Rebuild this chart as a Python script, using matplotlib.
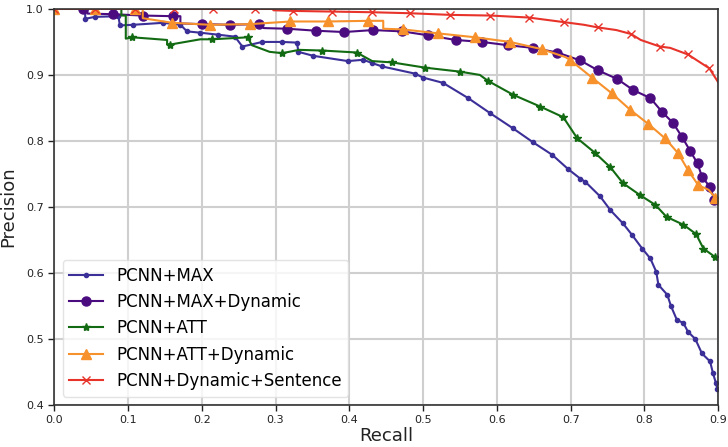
"""Precision-recall curves for the PCNN variants (MAX / ATT / Dynamic)."""
import matplotlib
matplotlib.use('Agg')
import matplotlib.pyplot as plt

# Curves: (recall, precision) per model.
max_recall = [0.0, 0.042, 0.042, 0.055, 0.087, 0.089, 0.107, 0.148, 0.171, 0.180, 0.198,
              0.222, 0.245, 0.255, 0.282, 0.309, 0.329, 0.331, 0.351, 0.398, 0.419,
              0.431, 0.444, 0.489, 0.500, 0.527, 0.561, 0.591, 0.622, 0.649, 0.675,
              0.697, 0.713, 0.720, 0.740, 0.754, 0.771, 0.783, 0.797, 0.808, 0.816,
              0.819, 0.831, 0.836, 0.844, 0.853, 0.859, 0.869, 0.878, 0.889, 0.893,
              0.897, 0.899]
max_precision = [1.0, 1.0, 0.985, 0.988, 0.989, 0.975, 0.976, 0.979, 0.976, 0.966, 0.964,
                 0.961, 0.958, 0.943, 0.950, 0.950, 0.949, 0.935, 0.929, 0.921, 0.923,
                 0.918, 0.913, 0.902, 0.896, 0.888, 0.865, 0.842, 0.819, 0.798, 0.779,
                 0.757, 0.743, 0.738, 0.716, 0.695, 0.675, 0.658, 0.637, 0.622, 0.602,
                 0.582, 0.567, 0.550, 0.529, 0.524, 0.511, 0.500, 0.478, 0.466, 0.448,
                 0.433, 0.424]

max_dyn_recall = [0.0, 0.039, 0.045, 0.045, 0.080, 0.120, 0.161, 0.171, 0.171, 0.200,
                  0.238, 0.278, 0.284, 0.316, 0.355, 0.393, 0.432, 0.472, 0.507, 0.544,
                  0.580, 0.615, 0.649, 0.682, 0.713, 0.737, 0.763, 0.785, 0.808, 0.824,
                  0.839, 0.851, 0.862, 0.872, 0.878, 0.889, 0.895, 0.900]
max_dyn_precision = [1.0, 1.0, 1.0, 0.993, 0.992, 0.990, 0.989, 0.989, 0.978, 0.977,
                     0.976, 0.977, 0.971, 0.970, 0.967, 0.965, 0.968, 0.966, 0.960, 0.953,
                     0.950, 0.945, 0.941, 0.934, 0.922, 0.907, 0.894, 0.877, 0.865, 0.844,
                     0.827, 0.806, 0.785, 0.766, 0.746, 0.730, 0.711, 0.704]

att_recall = [0.0, 0.091, 0.091, 0.097, 0.097, 0.106, 0.130, 0.153, 0.153, 0.157, 0.198,
              0.214, 0.262, 0.268, 0.292, 0.309, 0.332, 0.363, 0.410, 0.418, 0.431,
              0.458, 0.503, 0.550, 0.577, 0.588, 0.622, 0.659, 0.690, 0.709, 0.733,
              0.754, 0.771, 0.794, 0.815, 0.830, 0.853, 0.870, 0.880, 0.896, 0.900]
att_precision = [1.0, 1.0, 0.990, 0.990, 0.955, 0.957, 0.955, 0.953, 0.947, 0.946, 0.954,
                 0.954, 0.957, 0.945, 0.935, 0.933, 0.938, 0.937, 0.934, 0.929, 0.921,
                 0.919, 0.911, 0.905, 0.900, 0.891, 0.870, 0.852, 0.836, 0.804, 0.782,
                 0.760, 0.736, 0.718, 0.703, 0.685, 0.673, 0.659, 0.637, 0.624, 0.620]

att_dyn_recall = [0.0, 0.055, 0.110, 0.120, 0.120, 0.160, 0.211, 0.266, 0.320, 0.371,
                  0.426, 0.446, 0.446, 0.473, 0.520, 0.571, 0.618, 0.661, 0.693, 0.699,
                  0.729, 0.756, 0.781, 0.805, 0.828, 0.846, 0.859, 0.873, 0.887, 0.896,
                  0.900]
att_dyn_precision = [1.0, 1.0, 1.0, 1.0, 0.986, 0.979, 0.976, 0.977, 0.981, 0.981,
                     0.982, 0.982, 0.970, 0.969, 0.963, 0.957, 0.950, 0.939, 0.927, 0.923,
                     0.896, 0.872, 0.847, 0.826, 0.804, 0.781, 0.756, 0.733, 0.726, 0.714,
                     0.711]

sent_recall = [0.0, 0.055, 0.110, 0.162, 0.215, 0.272, 0.297, 0.297, 0.324, 0.377,
               0.431, 0.482, 0.537, 0.591, 0.643, 0.691, 0.718, 0.737, 0.762, 0.782,
               0.795, 0.821, 0.835, 0.859, 0.888, 0.900]
sent_precision = [1.0, 1.0, 1.0, 1.0, 1.0, 1.0, 1.0, 0.998, 0.997, 0.996,
                  0.995, 0.9935, 0.991, 0.990, 0.987, 0.980, 0.976, 0.972, 0.968, 0.962,
                  0.953, 0.943, 0.941, 0.931, 0.910, 0.889]

labels = ['PCNN+MAX', 'PCNN+MAX+Dynamic', 'PCNN+ATT', 'PCNN+ATT+Dynamic',
          'PCNN+Dynamic+Sentence']
colors = ['#3b2f98', '#4b0c80', '#126b12', '#f7912c', '#e7332a']
markers = ['o', 'o', '*', '^', 'x']
marker_sizes = [3, 6.5, 6, 6.5, 6]

# which vertices carry a marker (step corners stay bare)
max_marks = list(range(1, len(max_recall)))
max_dyn_marks = [1, 4, 5, 6, 9, 10, 11] + list(range(13, 37))
att_marks = [5, 9, 11, 12, 15, 17, 18, 21, 22, 23] + list(range(25, 40))
att_dyn_marks = [0, 1, 2, 5, 6, 7, 8, 9, 10, 13, 14, 15, 16, 17] + list(range(19, 28)) + [29]
sent_marks = [0, 1, 2, 3, 4, 5, 8, 9, 10, 11, 12, 13, 14, 15, 17, 19, 21, 23, 24]


def main() -> None:
    curves = [
        (max_recall, max_precision, max_marks),
        (max_dyn_recall, max_dyn_precision, max_dyn_marks),
        (att_recall, att_precision, att_marks),
        (att_dyn_recall, att_dyn_precision, att_dyn_marks),
        (sent_recall, sent_precision, sent_marks),
    ]

    fig = plt.figure(figsize=(7.28, 4.47), dpi=100)
    ax = fig.add_axes([0.0745, 0.094, 0.912, 0.886])

    for (rec, prec, marks), label, color, mk, ms in zip(
            curves, labels, colors, markers, marker_sizes):
        ax.plot(rec, prec, color=color, linewidth=1.5, marker=mk, markersize=ms,
                markevery=marks, label=label)

    ax.set_xlim(0.0, 0.9)
    ax.set_ylim(0.4, 1.0)
    ax.set_xticks([i / 10 for i in range(10)])
    ax.set_yticks([0.4, 0.5, 0.6, 0.7, 0.8, 0.9, 1.0])
    ax.grid(True, color='#cfcfcf', linewidth=1.5)
    ax.set_axisbelow(True)
    ax.tick_params(labelsize=8, length=4, width=1, colors='#222222')
    for spine in ax.spines.values():
        spine.set_color('#333333')
        spine.set_linewidth(1.2)

    ax.set_xlabel('Recall', fontsize=13, labelpad=1, color='#222222')
    ax.set_ylabel('Precision', fontsize=13, labelpad=6, color='#222222')
    ax.legend(loc='lower left', fontsize=12, framealpha=0.8, edgecolor='#dddddd')

    fig.savefig('out.png', dpi=100)
    plt.close(fig)


if __name__ == '__main__':
    main()
